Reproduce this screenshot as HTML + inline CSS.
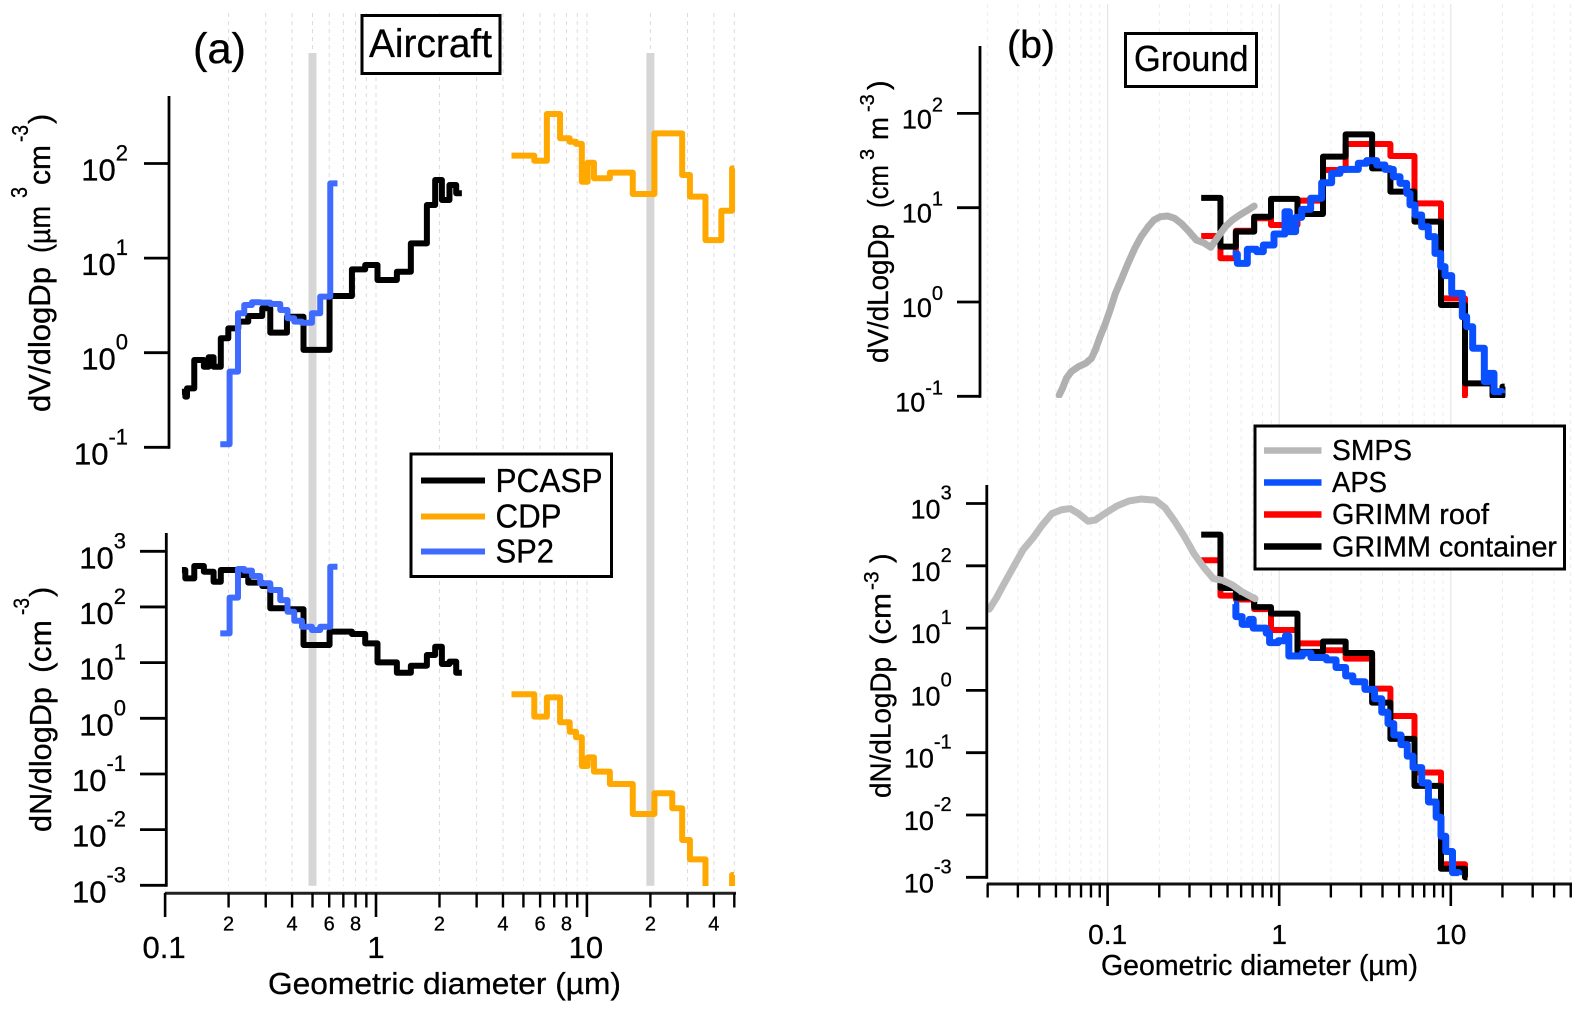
<!DOCTYPE html>
<html lang="en">
<head>
<meta charset="utf-8">
<title>Aircraft and ground aerosol size distributions</title>
<style>
html,body{margin:0;padding:0;background:#fff;}
svg{display:block;font-family:"Liberation Sans",Arial,sans-serif;fill:#000;}
svg text{stroke:#000;stroke-width:0.3px;}
</style>
</head>
<body>
<svg id="chart" xmlns="http://www.w3.org/2000/svg" width="1595" height="1019" viewBox="0 0 1595 1019">
  <defs>
    <clipPath id="clipA1"><rect x="160" y="0" width="580" height="449"/></clipPath>
    <clipPath id="clipA2"><rect x="160" y="500" width="580" height="386"/></clipPath>
    <clipPath id="clipB1"><rect x="980" y="0" width="600" height="398"/></clipPath>
    <clipPath id="clipB2"><rect x="980" y="470" width="600" height="411"/></clipPath>
  </defs>
  <rect x="0" y="0" width="1595" height="1019" fill="#fff"/>
  <g id="gridLayer"></g>
  <g id="seriesLayer"></g>
  <g id="axisLayer"></g>

  <text x="193" y="63" font-size="43" textLength="53" lengthAdjust="spacingAndGlyphs">(a)</text>
  <rect x="362" y="15.5" width="138" height="58" fill="#fff" stroke="#000" stroke-width="3"/>
  <text x="369" y="57" font-size="40" textLength="123" lengthAdjust="spacingAndGlyphs">Aircraft</text>

  <text x="1007" y="58" font-size="39" textLength="48" lengthAdjust="spacingAndGlyphs">(b)</text>
  <rect x="1125.5" y="33.5" width="131" height="53" fill="#fff" stroke="#000" stroke-width="3"/>
  <text x="1134" y="71" font-size="36" textLength="114.5" lengthAdjust="spacingAndGlyphs">Ground</text>

  <g>
    <text transform="translate(50,412) rotate(-90)" font-size="31" textLength="145" lengthAdjust="spacingAndGlyphs">dV/dlogDp</text>
    <text transform="translate(50,253) rotate(-90)" font-size="31" textLength="47" lengthAdjust="spacingAndGlyphs">(µm</text>
    <text transform="translate(27,198) rotate(-90)" font-size="23" textLength="11" lengthAdjust="spacingAndGlyphs">3</text>
    <text transform="translate(50,185) rotate(-90)" font-size="31" textLength="40" lengthAdjust="spacingAndGlyphs">cm</text>
    <text transform="translate(28,142) rotate(-90)" font-size="23" textLength="17" lengthAdjust="spacingAndGlyphs">-3</text>
    <text transform="translate(50,124) rotate(-90)" font-size="31">)</text>
  </g>
  <g>
    <text transform="translate(51,832) rotate(-90)" font-size="31" textLength="145" lengthAdjust="spacingAndGlyphs">dN/dlogDp</text>
    <text transform="translate(51,673) rotate(-90)" font-size="31" textLength="53" lengthAdjust="spacingAndGlyphs">(cm</text>
    <text transform="translate(29,615) rotate(-90)" font-size="22" textLength="17" lengthAdjust="spacingAndGlyphs">-3</text>
    <text transform="translate(51,597) rotate(-90)" font-size="31">)</text>
  </g>
  <g>
    <text transform="translate(888,363) rotate(-90)" font-size="29" textLength="139" lengthAdjust="spacingAndGlyphs">dV/dLogDp</text>
    <text transform="translate(888,208) rotate(-90)" font-size="29" textLength="43" lengthAdjust="spacingAndGlyphs">(cm</text>
    <text transform="translate(874,160) rotate(-90)" font-size="20">3</text>
    <text transform="translate(888,140) rotate(-90)" font-size="29" textLength="23" lengthAdjust="spacingAndGlyphs">m</text>
    <text transform="translate(874,112) rotate(-90)" font-size="20">-3</text>
    <text transform="translate(888,90) rotate(-90)" font-size="29">)</text>
  </g>
  <g>
    <text transform="translate(890.5,798) rotate(-90)" font-size="29" textLength="141" lengthAdjust="spacingAndGlyphs">dN/dLogDp</text>
    <text transform="translate(890.5,645) rotate(-90)" font-size="29" textLength="52" lengthAdjust="spacingAndGlyphs">(cm</text>
    <text transform="translate(878.5,590) rotate(-90)" font-size="21">-3</text>
    <text transform="translate(890.5,563) rotate(-90)" font-size="29">)</text>
  </g>

  <text x="268" y="994" font-size="31" textLength="353" lengthAdjust="spacingAndGlyphs">Geometric diameter (µm)</text>
  <text x="1101" y="975" font-size="29" textLength="317" lengthAdjust="spacingAndGlyphs">Geometric diameter (µm)</text>

  <g>
    <rect x="411" y="454" width="200.5" height="122.5" fill="#fff" stroke="#000" stroke-width="3"/>
    <g>
      <line x1="421" x2="485" y1="480.5" y2="480.5" stroke="#000" stroke-width="6"/>
      <text x="495.5" y="492" font-size="33" textLength="107" lengthAdjust="spacingAndGlyphs">PCASP</text>
    </g>
    <g>
      <line x1="421" x2="485" y1="516.5" y2="516.5" stroke="#ffa800" stroke-width="6"/>
      <text x="495.5" y="527.5" font-size="33" textLength="66" lengthAdjust="spacingAndGlyphs">CDP</text>
    </g>
    <g>
      <line x1="421" x2="485" y1="551.5" y2="551.5" stroke="#3f6bff" stroke-width="6"/>
      <text x="495.5" y="562.5" font-size="33" textLength="58.5" lengthAdjust="spacingAndGlyphs">SP2</text>
    </g>
  </g>

  <g>
    <rect x="1255" y="426" width="309.5" height="143" fill="#fff" stroke="#000" stroke-width="3"/>
    <g>
      <line x1="1264" x2="1321.5" y1="450.5" y2="450.5" stroke="#b8b8b8" stroke-width="6.5"/>
      <text x="1332" y="460" font-size="29" textLength="80" lengthAdjust="spacingAndGlyphs">SMPS</text>
    </g>
    <g>
      <line x1="1264" x2="1321.5" y1="482.5" y2="482.5" stroke="#0a50ff" stroke-width="6.5"/>
      <text x="1332" y="492" font-size="29" textLength="55" lengthAdjust="spacingAndGlyphs">APS</text>
    </g>
    <g>
      <line x1="1264" x2="1321.5" y1="514.5" y2="514.5" stroke="#ff0000" stroke-width="6.5"/>
      <text x="1332" y="524" font-size="29" textLength="157" lengthAdjust="spacingAndGlyphs">GRIMM roof</text>
    </g>
    <g>
      <line x1="1264" x2="1321.5" y1="546.5" y2="546.5" stroke="#000" stroke-width="6.5"/>
      <text x="1332" y="556.5" font-size="29" textLength="225" lengthAdjust="spacingAndGlyphs">GRIMM container</text>
    </g>
  </g>
</svg>

<script>
// ---- Panel (a): aircraft data ----
const pcaspEdges = [0.1202,0.1247,0.127,0.1375,0.1527,0.1609,0.1698,0.1837,0.1994,0.2223,0.2479,0.2889,0.3153,0.3782,0.4532,0.6023,0.7689,0.8888,1.0165,1.256,1.463,1.743,1.908,2.053,2.23,2.40,2.553];
const pcaspDV = [0.387,0.343,0.42,0.837,0.711,0.894,0.711,1.42,1.81,2.13,2.44,2.95,1.63,2.40,1.07,3.97,7.61,8.45,5.87,7.18,14.3,36.4,67,41.1,59.3,48.4];
const pcaspDN = [461,327,327,545,430,430,284,461,461,375,273,238,94.6,90.8,20.7,36,32.7,22.2,10.1,6.59,8.81,13.7,19.3,9.45,10.4,6.59];
const cdpEdges = [4.39,5.63,6.46,7.46,8.29,8.88,9.46,10.08,10.8,12.85,16.5,20.9,25.4,28.3,30.8,36.5,43.4,48.8,49.8];
const cdpDV = [121,107,334,185,170,161,64.2,102,69.8,80,47.6,208,208,75.5,44.6,15.5,31.7,88.9];
const cdpDN = [2.70,1.07,2.38,0.847,0.574,0.456,0.139,0.199,0.110,0.0661,0.0191,0.045,0.0242,0.00652,0.00293,0.0005,0.0005,0.00153];
const sp2Edges = [0.1826,0.2022,0.2216,0.2373,0.2581,0.2826,0.3153,0.3516,0.3807,0.4096,0.4455,0.4968,0.5439,0.6069,0.6568];
const sp2DV = [0.1076,0.631,2.61,3.19,3.41,3.38,3.27,2.83,2.31,2.13,2.07,2.61,3.91,61.7];
const sp2DN = [33.6,147,481,449,360,266,202,133,82.2,56.6,44.2,38.5,44.2,529];
const referenceDiameters = [0.5,20];

// ---- Panel (b): ground data ----
const grimmEdgesDV = [0.3511,0.4546,0.5591,0.7146,0.8959,1.278,1.80,2.439,3.479,4.447,6.144,8.767,12.1,17.5,20.0,20.6];
const grimmContainerDV = [12.7,3.86,5.57,8.03,12.4,8.57,34.8,60,26.1,14.8,7.11,0.929,0.1372,0.1007,0.1265];
const grimmEdgesN = [0.3511,0.4546,0.5591,0.7146,0.8959,1.278,1.80,2.439,3.479,4.447,6.144,8.767,12.1,12.5];
const grimmContainerDN = [317,44,30.9,21.7,17.1,4.16,6.09,3.99,0.637,0.1665,0.0293,0.00137,0.001];
const grimmRoofDV = [5.01,2.91,5.7,7.72,6.55,11.9,25.1,47.3,47.3,35.3,11.1,1.094,0.1];
const grimmRoofDN = [123,33.2,28.8,20.2,9.30,5.68,4.40,3.23,1.07,0.388,0.0481,0.00162,0.001];
const smpsDVDiameter = [0.0522,0.0546,0.0575,0.0614,0.0676,0.0745,0.0805,0.0848,0.0904,0.0964,0.1042,0.1111,0.121,0.1315,0.144,0.1567,0.1725,0.1864,0.2028,0.2234,0.2461,0.2711,0.2988,0.3291,0.3626,0.3995,0.4207,0.4546,0.4851,0.5342,0.5886,0.6486,0.7146];
const smpsDV = [0.103,0.1215,0.155,0.1825,0.206,0.2237,0.2528,0.3097,0.429,0.5705,0.857,1.236,1.782,2.57,3.71,4.93,6.29,7.41,8.03,8.17,7.71,6.71,5.57,4.54,4.26,3.80,4.36,5.35,6.29,7.41,8.37,9.30,10.4];
const smpsDNDiameter = [0.02046,0.02254,0.02483,0.02825,0.03214,0.03656,0.04165,0.04741,0.05393,0.06054,0.06761,0.07691,0.08479,0.09638,0.1134,0.1332,0.1566,0.19,0.2163,0.2461,0.2801,0.3188,0.3626,0.4126,0.4695,0.5342,0.6079,0.7238];
const smpsDN = [20.2,30.9,50.6,95.6,180,275,452,690,794,829,690,520,542,690,914,1099,1180,1130,853,520,296,157,95.6,62.5,58.3,49.2,38.2,29.6];
const apsDVDiameter = [0.5356,0.5702,0.652,0.7391,0.8083,0.9326,1.081,1.146,1.247,1.352,1.525,1.768,2.022,2.261,2.891,3.234,3.698,4.136,4.625,5.058,5.532,5.784,6.185,6.764,7.397,8.089,8.73,9.253,10.12,11.67,12.37,13.41,15.68,16.55,17.85,19.79];
const apsDV = [3.23,2.57,3.62,3.42,4.02,5.26,9.07,5.57,7.9,9.61,12.6,18.4,23.1,25.5,29.6,31.6,28.4,25.5,21.3,18.1,14.2,10.7,8.37,6.29,4.93,3.28,2.37,1.905,1.236,0.698,0.547,0.323,0.143,0.175,0.112,0.1076];
const apsDNDiameter = [0.5447,0.5591,0.6079,0.6699,0.7056,0.8398,0.8788,0.9872,1.088,1.138,1.364,1.532,1.884,2.144,2.439,2.687,3.158,3.595,3.959,4.306,4.653,5.127,5.577,6.026,6.77,7.41,8.216,8.767,9.35,10.23,11.13];
const apsDN = [24.3,15.3,11.5,13.8,9.99,8.31,5.84,6.27,7.53,3.56,3.99,3.37,3.09,2.33,1.71,1.38,1.04,0.733,0.447,0.293,0.192,0.1347,0.0882,0.0577,0.0328,0.0162,0.0092,0.00455,0.00259,0.00119,0.00108];

// ---- Tick labels ----
const exponentsVolume = [-1,0,1,2];
const exponentsNumberA = [-3,-2,-1,0,1,2,3];
const exponentsNumberB = [-3,-2,-1,0,1,2,3];
const xMajorA = [0.1,1,10];
const xMinorA = [0.2,0.3,0.4,0.5,0.6,0.7,0.8,0.9,2,3,4,5,6,7,8,9,20,30,40,50];
const xMinorLabelsA = [0.2,0.4,0.6,0.8,2,4,6,8,20,40];
const xMinorLabelTextA = ["2","4","6","8","2","4","6","8","2","4"];
const xMajorB = [0.1,1,10];
const xMinorB = [0.02,0.03,0.04,0.05,0.06,0.07,0.08,0.09,0.2,0.3,0.4,0.5,0.6,0.7,0.8,0.9,2,3,4,5,6,7,8,9,20,30,40,50];

const NS = "http://www.w3.org/2000/svg";
const gridLayer = document.getElementById("gridLayer");
const seriesLayer = document.getElementById("seriesLayer");
const axisLayer = document.getElementById("axisLayer");

// Axis functions
const log10 = Math.log10;
const xA = d => 376 + 210.9 * log10(d);
const yA1 = v => 352.7 - 94.6 * log10(v);
const yA2 = v => 718.3 - 55.67 * log10(v);
const xB = d => 1279.2 + 171.6 * log10(d);
const yB1 = v => 302 - 94.3 * log10(v);
const yB2 = v => 690.4 - 62.3 * log10(v);

function shape(tag, parent, props) {
  const el = document.createElementNS(NS, tag);
  Object.keys(props).forEach(k => el.setAttribute(k, props[k]));
  parent.appendChild(el);
  return el;
}
function line(parent, x1, y1, x2, y2, color, width, dash) {
  const el = shape("line", parent, {x1: x1, y1: y1, x2: x2, y2: y2, stroke: color, "stroke-width": width});
  if (dash) el.setAttribute("stroke-dasharray", dash);
  return el;
}
function label(parent, x, y, size, anchor, content) {
  const el = shape("text", parent, {x: x, y: y, "font-size": size, "text-anchor": anchor});
  el.textContent = content;
  return el;
}
function stepBins(edges, values, xf, yf, color, width, clip) {
  let d = "M" + xf(edges[0]).toFixed(2) + " " + yf(values[0]).toFixed(2);
  for (let i = 0; i < values.length; i++) {
    d += "L" + xf(edges[i + 1]).toFixed(2) + " " + yf(values[i]).toFixed(2);
    if (i + 1 < values.length) d += "L" + xf(edges[i + 1]).toFixed(2) + " " + yf(values[i + 1]).toFixed(2);
  }
  return shape("path", seriesLayer, {d: d, fill: "none", stroke: color, "stroke-width": width, "stroke-linejoin": "round", "clip-path": "url(#" + clip + ")"});
}
function stepPoints(xs, values, xf, yf, color, width, clip) {
  let d = "M" + xf(xs[0]).toFixed(2) + " " + yf(values[0]).toFixed(2);
  for (let i = 1; i < values.length; i++) {
    d += "L" + xf(xs[i]).toFixed(2) + " " + yf(values[i - 1]).toFixed(2);
    d += "L" + xf(xs[i]).toFixed(2) + " " + yf(values[i]).toFixed(2);
  }
  return shape("path", seriesLayer, {d: d, fill: "none", stroke: color, "stroke-width": width, "stroke-linejoin": "round", "clip-path": "url(#" + clip + ")"});
}
function smoothLine(xs, values, xf, yf, color, width, clip) {
  const pts = xs.map((x, i) => xf(x).toFixed(2) + "," + yf(values[i]).toFixed(2)).join(" ");
  return shape("polyline", seriesLayer, {points: pts, fill: "none", stroke: color, "stroke-width": width, "stroke-linejoin": "round", "stroke-linecap": "round", "clip-path": "url(#" + clip + ")"});
}
function yAxis(yf, exponents, axisX, topY, tickLeft, baseSize, expSize, expRight, baseDrop, expRise, panel) {
  const spine = line(axisLayer, axisX, topY, axisX, yf(Math.pow(10, exponents[0])) + 1.5, "#000", 2.8);
  
  
  exponents.forEach(e => {
    const y = yf(Math.pow(10, e));
    const tick = line(axisLayer, tickLeft, y, axisX, y, "#000", 2.8);
    
    
    const expText = String(e);
    const expWidth = (e < 0 ? 0.333 + 0.556 : 0.556) * expSize;
    const exp = label(axisLayer, expRight, y - expRise, expSize, "end", expText);
    
    
    const base = label(axisLayer, expRight - expWidth, y + baseDrop, baseSize, "end", "10");
    
    
  });
}

// Gridlines panel a
[...xMinorA, ...xMajorA.slice(1)].forEach(d => {
  const g = line(gridLayer, xA(d), 13, xA(d), 886, "#dcdcdc", 1, "4 4");
  
  
});
// Gridlines panel b
xMinorB.forEach(d => {
  const g = line(gridLayer, xB(d), 4, xB(d), 884, "#ececec", 1, "4 4");
  
  
});
xMajorB.forEach(d => {
  const g = line(gridLayer, xB(d), 4, xB(d), 884, "#e4e4e4", 1.2);
  
  
});
// Reference bands
referenceDiameters.forEach(d => {
  const band = line(gridLayer, xA(d), 53, xA(d), 885.7, "#d6d6d6", 8);
  
  
});

// Series panel a
const s1 = stepBins(pcaspEdges, pcaspDV, xA, yA1, "#000", 6, "clipA1");


const s2 = stepBins(cdpEdges, cdpDV, xA, yA1, "#ffa800", 6, "clipA1");


const s3 = stepBins(sp2Edges, sp2DV, xA, yA1, "#3f6bff", 6, "clipA1");


const s4 = stepBins(pcaspEdges, pcaspDN, xA, yA2, "#000", 6, "clipA2");


const s5 = stepBins(cdpEdges, cdpDN, xA, yA2, "#ffa800", 6, "clipA2");


const s6 = stepBins(sp2Edges, sp2DN, xA, yA2, "#3f6bff", 6, "clipA2");



// Series panel b
const b1 = stepBins(grimmEdgesN, grimmRoofDV, xB, yB1, "#ff0000", 6, "clipB1");


const b2 = stepBins(grimmEdgesDV, grimmContainerDV, xB, yB1, "#000", 6, "clipB1");


const b3 = smoothLine(smpsDVDiameter, smpsDV, xB, yB1, "#b0b0b0", 7, "clipB1");


const b4 = stepPoints(apsDVDiameter, apsDV, xB, yB1, "#0a50ff", 7, "clipB1");


const b5 = stepBins(grimmEdgesN, grimmRoofDN, xB, yB2, "#ff0000", 6, "clipB2");


const b6 = stepBins(grimmEdgesN, grimmContainerDN, xB, yB2, "#000", 6, "clipB2");


const b7 = smoothLine(smpsDNDiameter, smpsDN, xB, yB2, "#bcbcbc", 7, "clipB2");


const b8 = stepPoints(apsDNDiameter, apsDN, xB, yB2, "#0a50ff", 7, "clipB2");



// Y axes
yAxis(yA1, exponentsVolume, 169, 96, 144, 31, 22, 128, 17, 3, 'a-volume');
yAxis(yA2, exponentsNumberA, 166.3, 533, 140, 31, 22, 126, 17, 3, 'a-number');
yAxis(yB1, exponentsVolume, 980, 46, 957, 27, 20, 943, 15, 2, 'b-volume');
yAxis(yB2, exponentsNumberB, 986.8, 485, 966, 27, 20, 951.7, 15, 4, 'b-number');

// X axis panel a
const axA = line(axisLayer, 164.8, 893.3, 736, 893.3, "#222", 3);


xMajorA.forEach(d => {
  const t = line(axisLayer, xA(d), 893, xA(d), 917, "#000", 2.6);
  
  
  const l = label(axisLayer, xA(d) - (d === 0.1 ? 1 : (d === 10 ? 1 : 0)), 958, 31, "middle", String(d));
  
  
});
xMinorA.forEach(d => {
  const t = line(axisLayer, xA(d), 893, xA(d), 907.5, "#000", 2.4);
  
  
});
xMinorLabelsA.forEach((d, i) => {
  const l = label(axisLayer, xA(d), 930.5, 20, "middle", xMinorLabelTextA[i]);
  
  
});

// X axis panel b
const axB = line(axisLayer, 986.8, 884, 1572, 884, "#111", 3);


xMajorB.forEach(d => {
  const t = line(axisLayer, xB(d), 884, xB(d), 906, "#000", 2.6);
  
  
  const l = label(axisLayer, xB(d), 944, 28, "middle", String(d));
  
  
});
xMinorB.forEach(d => {
  const t = line(axisLayer, xB(d), 884, xB(d), 897.5, "#000", 2.4);
  
  
});
</script>
</body>
</html>
